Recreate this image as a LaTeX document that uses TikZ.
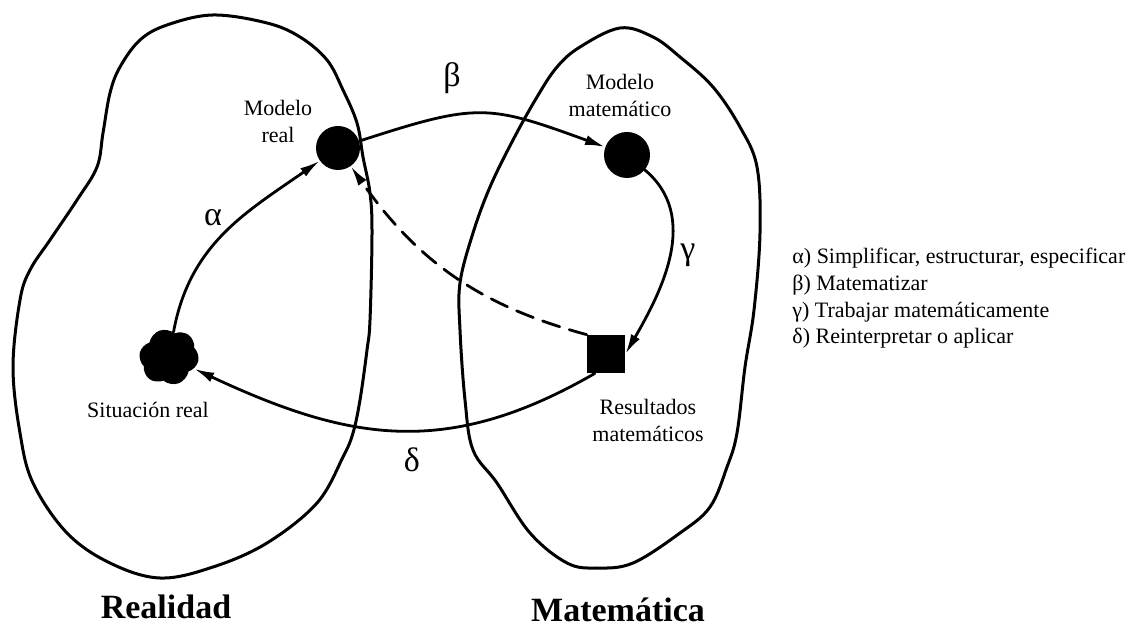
\documentclass[tikz,border=0pt]{standalone}
\usepackage{fontspec}
\setmainfont{Liberation Serif}
\usetikzlibrary{arrows.meta,shapes.symbols}

\tikzset{
  region/.style={line width=1.5pt, line join=round},
  flow/.style={line width=1.4pt, -{Latex[length=10pt,width=5pt]}},
  lbl/.style={font=\fontsize{11}{13.5}\selectfont, align=center, inner sep=0pt},
  greek/.style={font=\fontsize{17}{17}\selectfont, inner sep=0pt},
  world/.style={font=\fontsize{17}{17}\selectfont\bfseries, inner sep=0pt},
  key/.style={anchor=west, font=\fontsize{11}{13}\selectfont, inner sep=0pt}
}

\begin{document}
\begin{tikzpicture}[x=0.5pt, y=0.5pt, line cap=round]
  \useasboundingbox (0,0) rectangle (1134,626);

  % ========================================================
  % 0. THE TWO WORLDS (hand drawn outlines)
  % ========================================================
  % Realidad (left)
  \draw[region] plot[smooth cycle, tension=0.6] coordinates {
    (213,611) (267,603) (300,589) (327,566) (343,536) (357,503) (363,469)
    (370,433) (372,393) (370,306) (367,276) (360,226) (353,193) (343,169)
    (317,123) (267,83) (213,59) (160,48) (110,63) (67,93) (33,143)
    (20,193) (13,259) (20,326) (30,356) (50,386) (77,426) (97,459)
    (103,493) (110,533) (120,559) (140,586) (167,601)};

  % Matematica (right)
  \draw[region] plot[smooth cycle, tension=0.6] coordinates {
    (620,598) (653,589) (680,569) (713,539) (740,499) (757,459) (760,393)
    (754,316) (745,259) (737,193) (727,159) (710,119) (680,93) (633,63)
    (597,58) (567,63) (530,93) (497,143) (473,176) (465,226) (460,296)
    (460,343) (473,393) (490,439) (513,486) (537,529) (557,559) (580,579)};

  % ========================================================
  % 1. THE FOUR STATIONS OF THE CYCLE
  % ========================================================
  \node[cloud, cloud puffs=6, cloud puff arc=120, aspect=1.1, fill=black, rotate=20,
        minimum width=30pt, minimum height=28pt, inner sep=0pt] (sreal) at (169,269) {};
  \node[circle, fill=black, minimum size=22pt, inner sep=0pt] (mreal) at (338,478) {};
  \node[circle, fill=black, minimum size=23pt, inner sep=0pt] (mmat) at (627,471) {};
  \node[rectangle, fill=black, minimum size=19pt, inner sep=0pt] (res) at (606,272) {};

  % station labels
  \node[lbl] (lsreal) at (148,216) {Situación real};
  \node[lbl] (lmreal) at (278,505) {Modelo\\real};
  \node[lbl] (lmmat) at (620,531) {Modelo\\matemático};
  \node[lbl] (lres) at (648,206) {Resultados\\matemáticos};

  % ========================================================
  % 2. ARROWS OF THE MODELLING CYCLE
  % ========================================================
  \draw[flow] (sreal) to[out=75, in=215] (mreal);                          % alpha
  \draw[flow] (mreal) to[out=18, in=160, looseness=1.3] (mmat);           % beta
  \draw[flow] (mmat) to[out=-40, in=60] (res.east);                       % gamma
  \draw[flow] (res.240) to[out=210, in=-28, looseness=1.1] (sreal);       % delta
  \draw[flow, dash pattern=on 9pt off 5pt] (res.north west) to[out=165, in=-55] (mreal);

  \node[greek] (la) at (213,408) {α};
  \node[greek] (lb) at (452,548) {β};
  \node[greek] (lg) at (688,371) {γ};
  \node[greek] (ld) at (412,166) {δ};

  % ========================================================
  % 3. WORLD NAMES
  % ========================================================
  \node[world] (realidad) at (166,19) {Realidad};
  \node[world] (matematica) at (618,16) {Matemática};

  % ========================================================
  % 4. KEY
  % ========================================================
  \node[key] (k1) at (792,368) {α) Simplificar, estructurar, especificar};
  \node[key] (k2) at (792,341) {β) Matematizar};
  \node[key] (k3) at (792,314) {γ) Trabajar matemáticamente};
  \node[key] (k4) at (792,288) {δ) Reinterpretar o aplicar};

\end{tikzpicture}
\end{document}
